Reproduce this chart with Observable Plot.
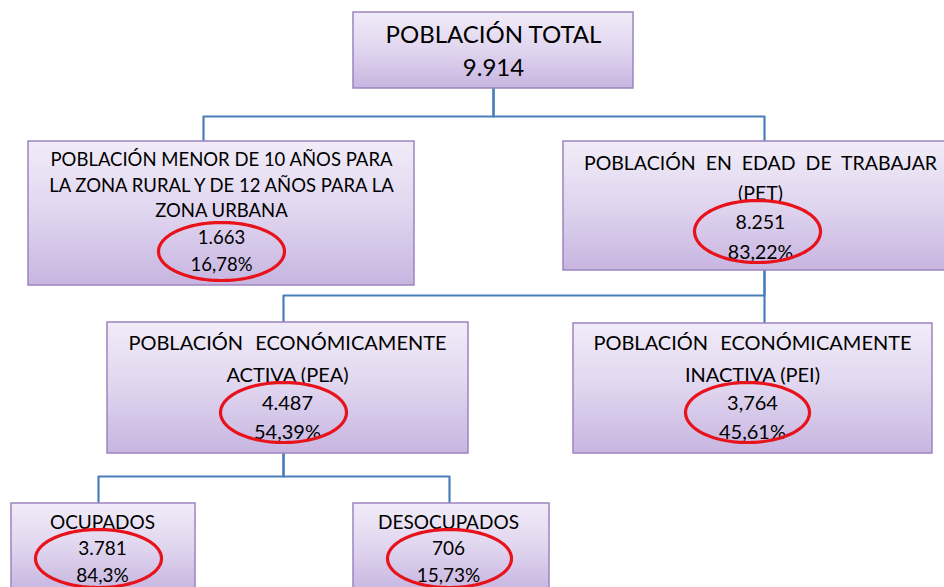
<!DOCTYPE html>
<html>
<head>
<meta charset="utf-8">
<script src="https://cdn.jsdelivr.net/npm/d3@7"></script>
<script src="https://cdn.jsdelivr.net/npm/@observablehq/plot@0.6"></script>
<style>
  html, body { margin: 0; padding: 0; background: #fff; overflow: hidden; }
  #chart svg { display: block; font-family: Lato, "Open Sans", sans-serif; }
</style>
</head>
<body>
<div id="chart"></div>
<script>
// ---------- data ----------
const nodeLabels = [
  ["POBLACIÓN TOTAL"],
  ["POBLACIÓN MENOR DE 10 AÑOS PARA", "LA ZONA RURAL Y DE 12 AÑOS PARA LA", "ZONA URBANA"],
  ["POBLACIÓN EN EDAD DE TRABAJAR", "(PET)"],
  ["POBLACIÓN ECONÓMICAMENTE", "ACTIVA (PEA)"],
  ["POBLACIÓN ECONÓMICAMENTE", "INACTIVA (PEI)"],
  ["OCUPADOS"],
  ["DESOCUPADOS"]
];
const nodeValues = ["9.914", "1.663", "8.251", "4.487", "3,764", "3.781", "706"];
const nodePercents = [null, "16,78%", "83,22%", "54,39%", "45,61%", "84,3%", "15,73%"];
const nodeParents = [null, 0, 0, 2, 2, 3, 3];

// ---------- layout (diagram geometry, not data) ----------
const layout = [
  {x1: 353, x2: 633, y1: 12,  y2: 88,  cx: 493, lines: [35, 68], fs: 24, anchorX: 493, elbowY: 116},
  {x1: 28,  x2: 414, y1: 141, y2: 285, cx: 221, lines: [160, 186, 211, 238, 265], fs: 18.5, anchorX: 203, ell: [221, 251, 63, 29]},
  {x1: 563, x2: 946, y1: 141, y2: 270, cx: 760, lines: [163, 193, 222, 252], fs: 19.5, anchorX: 764, elbowY: 295, ell: [757, 231, 63, 31], ws: 5},
  {x1: 107, x2: 468, y1: 322, y2: 453, cx: 287, lines: [343, 375, 403, 432], fs: 20, anchorX: 283, elbowY: 476, ell: [283, 412, 63, 30], ws: 7},
  {x1: 573, x2: 932, y1: 323, y2: 453, cx: 752, lines: [343, 375, 403, 432], fs: 20, anchorX: 764, ell: [747, 412, 62, 30], ws: 7},
  {x1: 11,  x2: 195, y1: 503, y2: 592, cx: 102, lines: [522, 548, 575], fs: 19, anchorX: 98, ell: [98, 558, 63, 29]},
  {x1: 353, x2: 549, y1: 503, y2: 592, cx: 448, lines: [522, 548, 575], fs: 19, anchorX: 449, ell: [449, 558, 62, 29]}
];

const boxes = nodeLabels.map((_, i) => ({i, ...layout[i]}));

const textRows = [];
nodeLabels.forEach((lbls, i) => {
  const L = layout[i];
  const all = [...lbls, nodeValues[i]];
  if (nodePercents[i]) all.push(nodePercents[i]);
  all.forEach((t, k) => textRows.push({x: L.cx, y: L.lines[k], text: t, fs: L.fs, ws: k === 0 ? (L.ws || 0) : 0}));
});

const links = [];
nodeParents.forEach((p, i) => {
  if (p === null) return;
  const P = layout[p], C = layout[i];
  links.push({id: i, x: P.anchorX, y: P.y2});
  links.push({id: i, x: P.anchorX, y: P.elbowY});
  links.push({id: i, x: C.anchorX, y: P.elbowY});
  links.push({id: i, x: C.anchorX, y: C.y1});
});

const ellPts = [];
layout.forEach((L, i) => {
  if (!L.ell) return;
  const [cx, cy, rx, ry] = L.ell;
  for (let k = 0; k <= 120; k++) {
    const a = (k / 120) * 2 * Math.PI;
    ellPts.push({id: i, x: cx + rx * Math.cos(a), y: cy + ry * Math.sin(a)});
  }
});

const sizes = [...new Set(textRows.map(d => d.fs))];

const plot = Plot.plot({
  width: 944,
  height: 587,
  margin: 0,
  x: {type: "linear", domain: [0, 944], range: [0, 944], axis: null},
  y: {type: "linear", domain: [0, 587], range: [0, 587], axis: null},
  style: {background: "#fff", fontFamily: "Lato, 'Open Sans', sans-serif", overflow: "hidden"},
  marks: [
    Plot.line(links, {x: "x", y: "y", z: "id", stroke: "#4a7ebb", strokeWidth: 2.2, curve: "linear"}),
    Plot.rect(boxes, {x1: "x1", x2: "x2", y1: "y1", y2: "y2", fill: "url(#boxGrad)", stroke: "#9c84c0", strokeWidth: 1.5}),
    ...sizes.map(s => Plot.text(textRows.filter(d => d.fs === s), {x: "x", y: "y", text: "text", fontSize: s, fill: "#000", lineAnchor: "middle", textAnchor: "middle"})),
    Plot.line(ellPts, {x: "x", y: "y", z: "id", stroke: "#e8121b", strokeWidth: 3.2})
  ]
});

const svg = d3.select(plot);
svg.insert("defs", ":first-child").html(
  '<linearGradient id="boxGrad" x1="0" y1="0" x2="0" y2="1">' +
  '<stop offset="0" stop-color="#f1ecf8"/>' +
  '<stop offset="0.5" stop-color="#e0d5ef"/>' +
  '<stop offset="1" stop-color="#c7b5e0"/>' +
  '</linearGradient>'
);
const wsMap = new Map(textRows.filter(d => d.ws).map(d => [d.text, d.ws]));
svg.selectAll("text").each(function() {
  const t = this.textContent;
  if (wsMap.has(t)) this.setAttribute("word-spacing", wsMap.get(t));
});

document.getElementById("chart").appendChild(plot);
</script>
</body>
</html>
